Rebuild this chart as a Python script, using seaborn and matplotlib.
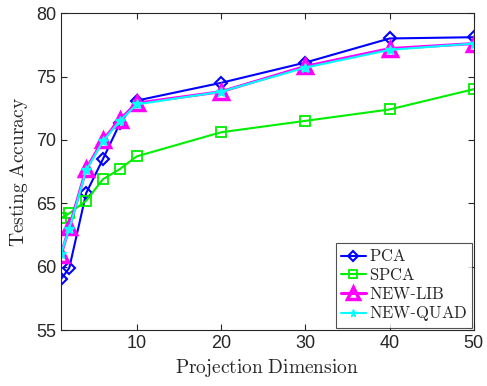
import numpy as np
import pandas as pd
import matplotlib
matplotlib.use("Agg")
import matplotlib.pyplot as plt
import seaborn as sns

dims = [1, 2, 4, 6, 8, 10, 20, 30, 40, 50]
pca = [59.0, 59.9, 65.8, 68.5, 71.3, 73.1, 74.5, 76.1, 78.0, 78.1]
spca = [63.8, 64.2, 65.2, 66.9, 67.7, 68.7, 70.6, 71.5, 72.4, 74.0]
new_lib = [60.9, 63.1, 67.7, 70.0, 71.6, 72.9, 73.8, 75.8, 77.2, 77.6]
new_quad = [61.0, 63.0, 67.6, 69.9, 71.5, 72.8, 73.8, 75.7, 77.1, 77.6]

sns.set_style("white")
plt.rcParams["mathtext.fontset"] = "cm"
plt.rcParams["font.family"] = ["Liberation Sans", "DejaVu Sans"]

df = pd.DataFrame({"dim": dims, "PCA": pca, "SPCA": spca,
                   "NEW-LIB": new_lib, "NEW-QUAD": new_quad})
long = df.melt(id_vars="dim", var_name="method", value_name="acc")

fig = plt.figure(figsize=(4.87, 3.86), dpi=100)
ax = fig.add_axes([0.125, 0.145, 0.848, 0.821])

styles = {
    "PCA": dict(color="#0000ff", marker="D", ms=6, mfc="none", mew=1.5, lw=1.5,
                label=r"$\mathrm{PCA}$"),
    "SPCA": dict(color="#00ee00", marker="s", ms=7, mfc="none", mew=1.3, lw=1.5,
                 label=r"$\mathrm{SPCA}$"),
    "NEW-LIB": dict(color="#ff00ff", marker="^", ms=10, mfc="none", mew=2.5, lw=2.2,
                    label=r"$\mathrm{NEW}$-$\mathrm{LIB}$"),
    "NEW-QUAD": dict(color="#00ffff", marker="*", ms=7, mfc="#00ffff", mew=1, lw=1.5,
                     label=r"$\mathrm{NEW}$-$\mathrm{QUAD}$"),
}
for name, st in styles.items():
    sub = long[long["method"] == name]
    sns.lineplot(data=sub, x="dim", y="acc", ax=ax, color=st["color"],
                 marker=st["marker"], markersize=st["ms"], markerfacecolor=st["mfc"],
                 markeredgecolor=st["color"], markeredgewidth=st["mew"],
                 linewidth=st["lw"], label=st["label"])

ax.set_xlim(1, 50)
ax.set_ylim(55, 80)
ax.set_xticks([10, 20, 30, 40, 50])
ax.set_yticks([55, 60, 65, 70, 75, 80])
ax.tick_params(direction="in", length=4, labelsize=13, colors="#262626",
               top=True, right=True, bottom=True, left=True, width=0.8)
for s in ax.spines.values():
    s.set_color("#262626")
    s.set_linewidth(0.8)
ax.set_xlabel(r"$\mathrm{Projection\ Dimension}$", fontsize=14)
ax.set_ylabel(r"$\mathrm{Testing\ Accuracy}$", fontsize=14)

leg = ax.legend(loc="lower right", frameon=True, fancybox=False,
                borderaxespad=0.1, handlelength=1.5, handletextpad=0.2,
                labelspacing=0.1, borderpad=0.3, markerscale=0.8,
                prop={"family": ["DejaVu Serif"], "size": 12})
leg.get_frame().set_edgecolor("#262626")
leg.get_frame().set_linewidth(0.8)

fig.savefig("out.png", dpi=100)
